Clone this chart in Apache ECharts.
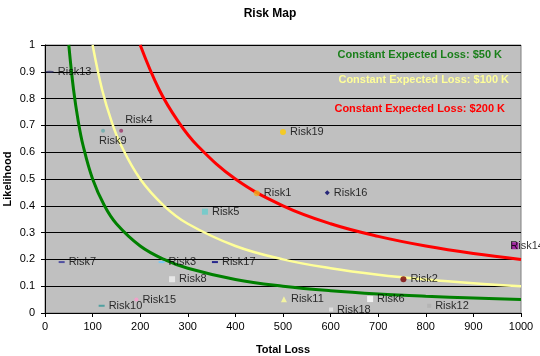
<!DOCTYPE html>
<html><head><meta charset="utf-8">
<script src="https://cdn.jsdelivr.net/npm/echarts@6/dist/echarts.min.js"></script>
<style>html,body{margin:0;padding:0;background:#fff}#c{width:540px;height:356px}</style>
</head><body><div id="c"></div>
<script>
// ---- data ----
var riskNames = ['Risk1','Risk2','Risk3','Risk4','Risk5','Risk6','Risk7','Risk8','Risk9','Risk10','Risk11','Risk12','Risk13','Risk14','Risk15','Risk16','Risk17','Risk18','Risk19'];
var riskLoss  = [445, 753, 245, 160, 336, 683, 35, 267, 122, 119, 502, 807, 10, 987, 192, 593, 357, 601, 500];
var riskLike  = [0.447, 0.126, 0.19, 0.68, 0.378, 0.052, 0.19, 0.126, 0.68, 0.027, 0.051, 0.027, 0.9, 0.251, 0.05, 0.449, 0.19, 0.013, 0.675];

var curve50X  = [50, 60, 70, 80, 100, 125, 150, 200, 250, 300, 400, 500, 600, 700, 800, 900, 1000];
var curve50Y  = [1, 0.833, 0.714, 0.625, 0.5, 0.4, 0.333, 0.25, 0.2, 0.167, 0.125, 0.1, 0.083, 0.071, 0.0625, 0.056, 0.05];
var curve100X = [100, 120, 140, 160, 200, 250, 300, 400, 500, 600, 700, 800, 900, 1000];
var curve100Y = [1, 0.833, 0.714, 0.625, 0.5, 0.4, 0.333, 0.25, 0.2, 0.167, 0.143, 0.125, 0.111, 0.1];
var curve200X = [200, 240, 280, 320, 400, 500, 600, 700, 800, 900, 1000];
var curve200Y = [1, 0.833, 0.714, 0.625, 0.5, 0.4, 0.333, 0.286, 0.25, 0.222, 0.2];

var curveNames = ['Constant Expected Loss: $50 K','Constant Expected Loss: $100 K','Constant Expected Loss: $200 K'];
var xTicks = [0,100,200,300,400,500,600,700,800,900,1000];
var yTicks = [0,0.1,0.2,0.3,0.4,0.5,0.6,0.7,0.8,0.9,1];

// ---- styles ----
var markColors = ['#f0b020','#7a0000','#66ccff','#993366','#66cccc','#ffffff','#333399','#f0f0f0','#66aaaa','#339999','#ffff99','#b0b0b0','#333366','#990099','#ff99cc','#000066','#000080','#e8e8e8','#ffcc00'];
var markSymbols = ['circle','circle','rect','circle','rect','rect','rect','rect','circle','rect','triangle','rect','circle','rect','circle','diamond','rect','rect','circle'];
var markSizes = [6,6,[6,2],4,6,6,[6,2],6,4,[6,2],6,4,[8,2],7,4,5,[6,2],4,6];
var labelOffsets = {Risk4:[-2,-11], Risk9:[-10,10], Risk14:[-12,0]};
var FONT = 'Liberation Sans, Arial, sans-serif';

function pairs(xs, ys){ return xs.map(function(x,i){return [x, ys[i]];}); }

var pts = riskNames.map(function(n,i){
  return {
    name: n,
    value: [riskLoss[i], riskLike[i]],
    symbol: markSymbols[i],
    symbolSize: markSizes[i],
    itemStyle: {color: markColors[i]},
    label: {offset: labelOffsets[n] || [0,0]}
  };
});

var chart = echarts.init(document.getElementById('c'));
chart.setOption({
  animation: false,
  backgroundColor: '#ffffff',
  title: {text: 'Risk Map', left: 'center', top: 3,
    textStyle: {fontFamily: FONT, fontSize: 12, fontWeight: 'bold', color: '#000'}},
  grid: {left: 45, right: 19, top: 45, bottom: 43, show: true, containLabel: false, outerBoundsMode: 'none',
    backgroundColor: '#c0c0c0', borderColor: '#808080', borderWidth: 1},
  xAxis: {type: 'value', min: 0, max: 1000, interval: 100,
    name: 'Total Loss', nameLocation: 'middle', nameGap: 31, nameMoveOverlap: false,
    nameTextStyle: {fontFamily: FONT, fontSize: 11, fontWeight: 'bold', color: '#000'},
    axisLine: {show: true, onZero: false, lineStyle: {color: '#000', width: 1}},
    axisTick: {show: true, inside: false, length: 4, lineStyle: {color: '#000'}},
    axisLabel: {fontFamily: FONT, fontSize: 11, color: '#000', margin: 8,
      formatter: function(v){ return xTicks.indexOf(v) >= 0 ? String(v) : ''; }},
    splitLine: {show: false}},
  yAxis: {type: 'value', min: 0, max: 1, interval: 0.1,
    name: 'Likelihood', nameLocation: 'middle', nameGap: 32, nameRotate: 90, nameMoveOverlap: false,
    nameTextStyle: {fontFamily: FONT, fontSize: 11, fontWeight: 'bold', color: '#000'},
    axisLine: {show: true, lineStyle: {color: '#000', width: 1}},
    axisTick: {show: true, inside: false, length: 4, lineStyle: {color: '#000'}},
    axisLabel: {fontFamily: FONT, fontSize: 11, color: '#000', margin: 10,
      formatter: function(v){ var r = Math.round(v*10)/10; return yTicks.indexOf(r) >= 0 ? String(r) : ''; }},
    splitLine: {show: true, lineStyle: {color: '#000', width: 1}}},
  series: [
    {type: 'line', name: curveNames[0], data: pairs(curve50X, curve50Y), smooth: 0.4, showSymbol: false,
      lineStyle: {color: '#008000', width: 3}, z: 2},
    {type: 'line', name: curveNames[1], data: pairs(curve100X, curve100Y), smooth: 0.4, showSymbol: false,
      lineStyle: {color: '#ffff99', width: 2.5}, z: 2},
    {type: 'line', name: curveNames[2], data: pairs(curve200X, curve200Y), smooth: 0.4, showSymbol: false,
      lineStyle: {color: '#ff0000', width: 3}, z: 2},
    {type: 'scatter', name: 'Risks', data: pts, z: 3,
      label: {show: true, position: 'right', distance: 4, formatter: '{b}',
        fontFamily: FONT, fontSize: 11, color: '#000'}}
  ],
  graphic: [
    {type: 'text', right: 38, top: 49, style: {text: curveNames[0], fill: '#1a7f1a', font: 'bold 11px ' + FONT}},
    {type: 'text', right: 31, top: 74, style: {text: curveNames[1], fill: '#ffff99', font: 'bold 11px ' + FONT}},
    {type: 'text', right: 35, top: 103, style: {text: curveNames[2], fill: '#ff0000', font: 'bold 11px ' + FONT}}
  ]
});
</script></body></html>
